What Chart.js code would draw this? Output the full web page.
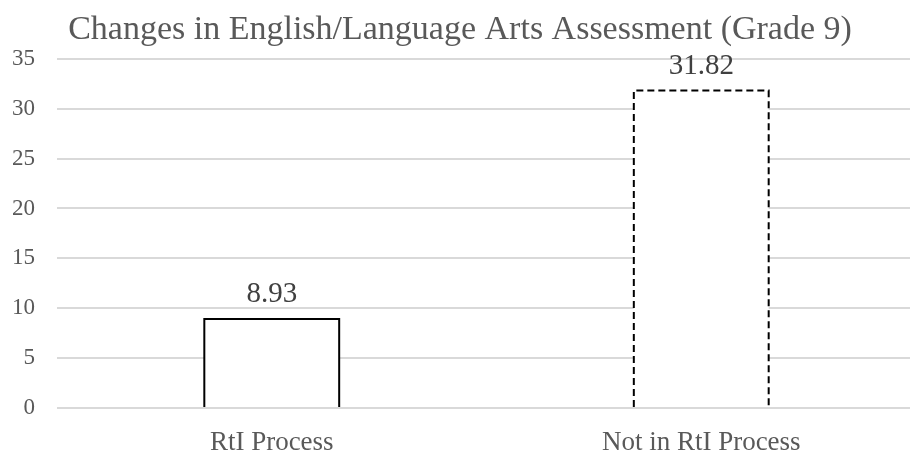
<!DOCTYPE html>
<html lang="en">
<head>
<meta charset="utf-8">
<title>Changes in English/Language Arts Assessment (Grade 9)</title>
<script src="https://cdn.jsdelivr.net/npm/chart.js"></script>
<style>
  html,body{margin:0;padding:0;background:#fff;overflow:hidden;}
  #wrap{width:916px;height:458px;}
</style>
</head>
<body>
<div id="wrap"><canvas id="myChart"></canvas></div>
<script>
/* data */
const categories = ['RtI Process', 'Not in RtI Process'];
const values     = [8.93, 31.82];
const yTicks     = [0, 5, 10, 15, 20, 25, 30, 35];

const TEXT = '#595959';
const FONT = '"Liberation Serif", "Times New Roman", serif';

/* outline bars (second one dashed) plus value labels above them */
const outlinePlugin = {
  id: 'outline',
  afterDatasetsDraw(chart){
    const ctx = chart.ctx;
    const meta = chart.getDatasetMeta(0);
    meta.data.forEach((bar, i)=>{
      const {x, y, base, width} = bar.getProps(['x','y','base','width'], true);
      const l = x - width/2, r = x + width/2;
      ctx.save();
      ctx.strokeStyle = '#000';
      ctx.lineWidth = 2;
      ctx.setLineDash(i === 1 ? [7, 4] : []);
      ctx.beginPath();
      ctx.moveTo(l, base); ctx.lineTo(l, y); ctx.lineTo(r, y); ctx.lineTo(r, base);
      ctx.stroke();
      ctx.restore();

      ctx.save();
      ctx.fillStyle = '#404040';
      ctx.font = '29px ' + FONT;
      ctx.textAlign = 'center';
      ctx.textBaseline = 'alphabetic';
      ctx.fillText(values[i].toFixed(2), x, y - 17);
      ctx.restore();
    });
  }
};

new Chart(document.getElementById('myChart'), {
  type: 'bar',
  data: {
    labels: categories,
    datasets: [{
      data: values,
      backgroundColor: '#ffffff',
      borderWidth: 0,
      categoryPercentage: 1,
      barPercentage: 0.314
    }]
  },
  options: {
    responsive: true,
    maintainAspectRatio: false,
    animation: false,
    layout: {padding: {top: 10, right: 0, left: 4, bottom: 3}},
    plugins: {
      legend: {display: false},
      tooltip: {enabled: false},
      title: {
        display: true,
        text: 'Changes in English/Language Arts Assessment (Grade 9)',
        color: TEXT,
        font: {family: FONT, size: 34, weight: 'normal'},
        padding: {top: 0, bottom: 8}
      }
    },
    scales: {
      x: {
        grid: {display: false},
        border: {display: false},
        afterFit: axis => { axis.height = 47; },
        ticks: {color: TEXT, font: {family: FONT, size: 27, lineHeight: 1},
                padding: 13, maxRotation: 0, minRotation: 0, autoSkip: false}
      },
      y: {
        min: 0, max: 35,
        afterBuildTicks: axis => { axis.ticks = yTicks.map(v => ({value: v})); },
        afterFit: axis => { axis.width = 53; },
        grid: {color: '#d9d9d9', lineWidth: 2, drawTicks: false},
        border: {display: false},
        ticks: {color: TEXT, font: {family: FONT, size: 23}, padding: 22}
      }
    }
  },
  plugins: [outlinePlugin]
});
</script>
</body>
</html>
